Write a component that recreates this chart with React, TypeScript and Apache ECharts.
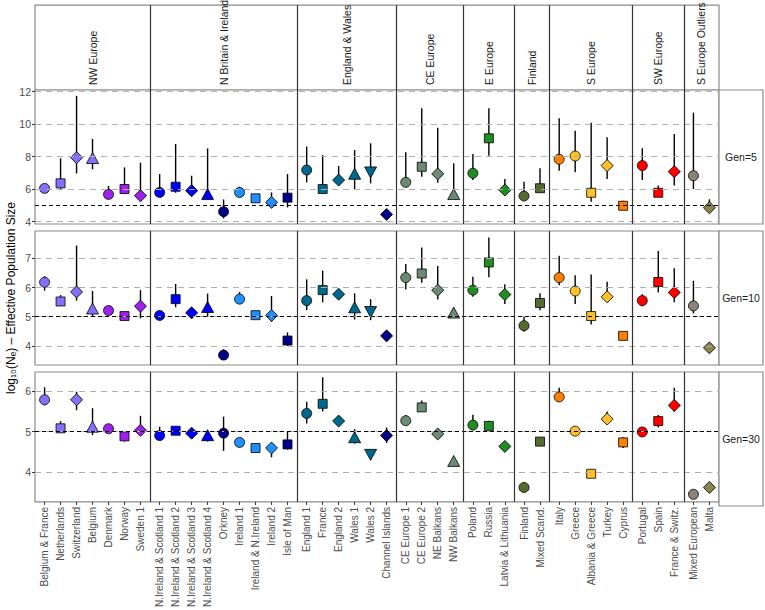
import React, { useEffect, useRef } from "react";
import * as echarts from "echarts";

const groups = ["NW Europe", "N Britain & Ireland", "England & Wales", "CE Europe", "E Europe", "Finland", "S Europe", "SW Europe", "S Europe Outliers"];
const groupSizes = [7, 9, 6, 4, 3, 2, 5, 3, 2];
const categories = [
  "Belgium & France", "Netherlands", "Switzerland", "Belgium", "Denmark", "Norway", "Sweden 1",
  "N.Ireland & Scotland 1", "N.Ireland & Scotland 2", "N.Ireland & Scotland 3", "N.Ireland & Scotland 4", "Orkney", "Ireland 1", "Ireland & N.Ireland", "Ireland 2", "Isle of Man",
  "England 1", "France", "England 2", "Wales 1", "Wales 2", "Channel Islands",
  "CE Europe 1", "CE Europe 2", "NE Balkans", "NW Balkans",
  "Poland", "Russia", "Latvia & Lithuania",
  "Finland", "Mixed Scand.",
  "Italy", "Greece", "Albania & Greece", "Turkey", "Cyprus",
  "Portugal", "Spain", "France & Switz.",
  "Mixed European", "Malta",
];
const shapes = [
  "circle", "square", "diamond", "triangle", "circle", "square", "diamond",
  "circle", "square", "diamond", "triangle", "circle", "circle", "square", "diamond", "square",
  "circle", "square", "diamond", "triangle", "triangleDown", "diamond",
  "circle", "square", "diamond", "triangle",
  "circle", "square", "diamond",
  "circle", "square",
  "circle", "circle", "square", "diamond", "square",
  "circle", "square", "diamond",
  "circle", "diamond",
];
const colors = [
  "#8470ff", "#8470ff", "#8470ff", "#8470ff", "#a020f0", "#a020f0", "#a020f0",
  "#0000ff", "#0000ff", "#0000ff", "#0000ff", "#00008b", "#1e90ff", "#1e90ff", "#1e90ff", "#00008b",
  "#00688b", "#00688b", "#00688b", "#00688b", "#00688b", "#00008b",
  "#6c8b75", "#6c8b75", "#6c8b75", "#6c8b75",
  "#228b22", "#228b22", "#228b22",
  "#556b2f", "#556b2f",
  "#ff8000", "#ffc125", "#ffc125", "#ffc125", "#ff7f00",
  "#ff0000", "#ff0000", "#ff0000",
  "#8b8378", "#8b864e",
];

const gen5 = [6.05, 6.36, 7.94, 7.92, 5.68, 6.01, 5.6, 5.8, 6.15, 5.91, 5.7, 4.62, 5.8, 5.44, 5.19, 5.48, 7.18, 6.01, 6.56, 6.95, 7.03, 4.45, 6.42, 7.38, 6.94, 5.7, 6.98, 9.13, 5.95, 5.58, 6.06, 7.84, 8.04, 5.78, 7.45, 4.98, 7.45, 5.78, 7.08, 6.83, 4.86];
const gen5Low = [6.0, 6.0, 6.97, 7.22, 5.6, 5.74, 5.5, 5.54, 5.78, 5.64, 5.6, 4.2, 5.6, 5.4, 5.1, 4.88, 6.42, 5.95, 6.4, 5.99, 6.36, 4.4, 6.2, 6.77, 6.4, 5.5, 6.57, 8.06, 5.8, 5.4, 6.0, 7.14, 7.04, 5.23, 6.63, 4.9, 6.57, 5.7, 6.22, 6.01, 4.75];
const gen5High = [6.1, 7.9, 11.74, 9.09, 6.2, 7.34, 7.63, 6.93, 8.78, 6.83, 8.51, 5.37, 6.15, 5.68, 5.8, 6.93, 8.62, 8.1, 7.43, 8.41, 8.82, 4.5, 8.27, 10.98, 9.78, 7.59, 8.17, 10.98, 6.63, 6.46, 7.29, 10.36, 9.6, 10.09, 9.19, 5.29, 8.52, 6.22, 9.4, 10.71, 5.38];

const gen10 = [6.18, 5.52, 5.85, 5.28, 5.21, 5.02, 5.36, 5.04, 5.6, 5.13, 5.33, 3.68, 5.6, 5.05, 5.04, 4.18, 5.55, 5.91, 5.77, 5.32, 5.16, 4.34, 6.34, 6.48, 5.91, 5.14, 5.91, 6.86, 5.76, 4.69, 5.47, 6.34, 5.88, 5.02, 5.68, 4.34, 5.55, 6.19, 5.83, 5.37, 3.93];
const gen10Low = [5.89, 5.4, 5.55, 5.0, 5.18, 4.98, 4.94, 5.0, 5.32, 4.95, 5.0, 3.6, 5.45, 5.02, 4.82, 3.99, 5.22, 5.49, 5.74, 4.9, 4.88, 4.3, 5.93, 6.16, 5.59, 5.0, 5.68, 6.35, 5.43, 4.48, 5.22, 6.08, 5.43, 4.73, 5.57, 4.3, 5.36, 5.83, 5.49, 5.11, 3.9];
const gen10High = [6.39, 5.74, 7.44, 5.88, 5.24, 5.1, 5.91, 5.1, 6.12, 5.2, 5.79, 3.88, 5.85, 5.08, 5.71, 4.46, 6.28, 6.58, 5.8, 5.8, 5.6, 4.38, 6.81, 7.37, 6.74, 5.3, 6.37, 7.72, 6.11, 5.02, 5.8, 7.09, 6.42, 6.45, 6.2, 4.38, 5.77, 7.25, 6.66, 6.23, 3.96];

const gen30 = [5.79, 5.08, 5.79, 5.12, 5.07, 4.88, 5.03, 4.9, 5.02, 4.96, 4.91, 4.96, 4.73, 4.59, 4.59, 4.68, 5.45, 5.69, 5.26, 4.86, 4.42, 4.9, 5.27, 5.6, 4.94, 4.27, 5.16, 5.14, 4.63, 3.61, 4.75, 5.86, 5.01, 3.95, 5.31, 4.73, 4.99, 5.26, 5.65, 3.44, 3.61];
const gen30Low = [5.65, 5.02, 5.53, 4.91, 5.05, 4.75, 4.92, 4.85, 4.95, 4.88, 4.75, 4.52, 4.7, 4.57, 4.36, 4.55, 5.2, 5.5, 5.24, 4.7, 4.4, 4.72, 5.2, 5.5, 4.92, 4.25, 5.1, 5.07, 4.6, 3.58, 4.72, 5.8, 4.95, 3.9, 5.2, 4.59, 4.95, 5.1, 5.49, 3.42, 3.58];
const gen30High = [6.1, 5.26, 5.99, 5.58, 5.09, 5.0, 5.39, 5.12, 5.1, 5.08, 5.0, 5.37, 4.76, 4.61, 4.72, 5.0, 5.74, 6.35, 5.28, 5.06, 4.5, 5.1, 5.41, 5.77, 4.96, 4.3, 5.42, 5.27, 4.66, 3.64, 4.78, 6.09, 5.07, 3.98, 5.5, 4.86, 5.05, 5.41, 6.09, 3.46, 3.64];

const rowLabels = ["Gen=5", "Gen=10", "Gen=30"];
const rowTicks = [[4, 6, 8, 10, 12], [4, 5, 6, 7], [4, 5, 6]];
const rowLimits = [[3.86, 12.1], [3.34, 7.94], [3.25, 6.48]];
const referenceLine = 5;

const FONT = "'Liberation Sans', Arial, sans-serif";
const LEFT = 35;
const WIDTH = 684;
const ROW_TOPS = [90, 231, 372];
const ROW_H = 134;
const STRIP_TOP = 2;

export default function App() {
  const ref = useRef<HTMLDivElement>(null);
  useEffect(() => {
    document.body.style.margin = "0";
    if (!ref.current) return;
    const chart = echarts.init(ref.current, undefined, { renderer: "svg" });

    // layout of categories in units (discrete scale with 0.6 expansion per panel)
    const xPos: number[] = [];
    const boundaries: number[] = [];
    const centers: number[] = [];
    let start = 0;
    groupSizes.forEach((n) => {
      for (let j = 0; j < n; j++) xPos.push(start + 0.6 + j);
      centers.push(start + (n + 0.2) / 2);
      start += n + 0.2;
      boundaries.push(start);
    });
    const XMAX = start;
    const innerBounds = boundaries.slice(0, -1);
    const nameAt = (v: number) => {
      let best = 0;
      xPos.forEach((p, i) => { if (Math.abs(p - v) < Math.abs(xPos[best] - v)) best = i; });
      return categories[best];
    };
    const groupAt = (v: number) => {
      let best = 0;
      centers.forEach((p, i) => { if (Math.abs(p - v) < Math.abs(centers[best] - v)) best = i; });
      return groups[best];
    };

    const values = [gen5, gen10, gen30];
    const lows = [gen5Low, gen10Low, gen30Low];
    const highs = [gen5High, gen10High, gen30High];

    const symbolFor = (s: string) => {
      switch (s) {
        case "circle": return { symbol: "circle", symbolSize: 10, symbolRotate: 0 };
        case "square": return { symbol: "rect", symbolSize: 9, symbolRotate: 0 };
        case "diamond": return { symbol: "rect", symbolSize: 8.5, symbolRotate: 45 };
        case "triangle": return { symbol: "triangle", symbolSize: [12, 11], symbolRotate: 0 };
        case "triangleDown": return { symbol: "triangle", symbolSize: [12, 11], symbolRotate: 180 };
      }
      return { symbol: "circle", symbolSize: 10, symbolRotate: 0 };
    };

    const grids: any[] = [
      { left: LEFT, top: STRIP_TOP, width: WIDTH, height: ROW_TOPS[0] - STRIP_TOP, show: true, borderColor: "#8a8a8a", borderWidth: 1.2, backgroundColor: "#fff" },
      ...ROW_TOPS.map((t) => ({ left: LEFT, top: t, width: WIDTH, height: ROW_H, show: true, borderColor: "#8a8a8a", borderWidth: 1.2, backgroundColor: "#fff" })),
    ];

    const xAxes: any[] = [
      {
        type: "value", gridIndex: 0, min: 0, max: XMAX,
        axisLine: { show: false }, axisTick: { show: false }, splitLine: { show: false },
        axisLabel: {
          show: true, inside: true, rotate: 90, margin: 5, customValues: centers,
          formatter: (v: number) => groupAt(v), color: "#1a1a1a", fontSize: 10.5, fontFamily: FONT,
        },
      },
      ...[0, 1, 2].map((r) => ({
        type: "value", gridIndex: r + 1, min: 0, max: XMAX,
        axisLine: { show: false }, splitLine: { show: false },
        axisTick: r === 2 ? { show: true, customValues: xPos, length: 3, lineStyle: { color: "#333", width: 1 } } : { show: false },
        axisLabel: r === 2
          ? { show: true, rotate: 90, margin: 5, customValues: xPos, formatter: (v: number) => nameAt(v), color: "#4d4d4d", fontSize: 10, fontFamily: FONT }
          : { show: false },
      })),
    ];

    const yAxes: any[] = [
      { type: "value", gridIndex: 0, min: 0, max: 1, show: false },
      ...[0, 1, 2].map((r) => ({
        type: "value", gridIndex: r + 1, min: rowLimits[r][0], max: rowLimits[r][1],
        axisLine: { show: false }, splitLine: { show: false },
        axisTick: { show: true, customValues: rowTicks[r], length: 3, lineStyle: { color: "#333", width: 1 } },
        axisLabel: { show: true, customValues: rowTicks[r], color: "#4d4d4d", fontSize: 10.5, margin: 4, fontFamily: FONT },
      })),
    ];

    const sepLine = (b: number) => ({ xAxis: b, lineStyle: { color: "#333", width: 1.2, type: "solid" } });

    const series: any[] = [
      {
        type: "scatter", xAxisIndex: 0, yAxisIndex: 0, data: [], silent: true,
        markLine: { silent: true, symbol: "none", label: { show: false }, animation: false, data: innerBounds.map(sepLine) },
      },
    ];

    [0, 1, 2].forEach((r) => {
      series.push({
        type: "scatter", xAxisIndex: r + 1, yAxisIndex: r + 1, data: [], silent: true, z: 1,
        markLine: {
          silent: true, symbol: "none", label: { show: false }, animation: false,
          data: [
            ...rowTicks[r].map((t) => ({ yAxis: t, lineStyle: { color: "#b0b0b0", width: 1.2, type: [6, 5] } })),
            { yAxis: referenceLine, lineStyle: { color: "#000", width: 1.2, type: [4, 3] } },
            ...innerBounds.map(sepLine),
          ],
        },
      });
      series.push({
        type: "custom", xAxisIndex: r + 1, yAxisIndex: r + 1, z: 2, silent: true,
        data: categories.map((_, i) => [xPos[i], lows[r][i], highs[r][i]]),
        encode: { x: 0, y: [1, 2] },
        renderItem: (params: any, api: any) => {
          const x = api.value(0);
          const p1 = api.coord([x, api.value(1)]);
          const p2 = api.coord([x, api.value(2)]);
          return { type: "line", shape: { x1: p1[0], y1: p1[1], x2: p2[0], y2: p2[1] }, style: { stroke: "#000", lineWidth: 1.4 } };
        },
      });
      series.push({
        type: "scatter", xAxisIndex: r + 1, yAxisIndex: r + 1, z: 3, silent: true,
        data: categories.map((c, i) => {
          const s = symbolFor(shapes[i]);
          return {
            name: c, value: [xPos[i], values[r][i]], ...s,
            itemStyle: { color: colors[i], borderColor: "#000", borderWidth: 0.8, opacity: 1 },
          };
        }),
      });
    });

    const graphic: any[] = [];
    ROW_TOPS.forEach((t, r) => {
      graphic.push({
        type: "rect", shape: { x: LEFT + WIDTH, y: t, width: 44, height: ROW_H },
        style: { fill: "#fff", stroke: "#8a8a8a", lineWidth: 1.2 },
      });
      graphic.push({
        type: "text", x: LEFT + WIDTH + 22, y: t + ROW_H / 2,
        style: { text: rowLabels[r], fill: "#1a1a1a", fontSize: 10.5, fontFamily: FONT, align: "center", verticalAlign: "middle" },
      });
    });
    graphic.push({
      type: "text", x: 11, y: (ROW_TOPS[0] + ROW_TOPS[2] + ROW_H) / 2, rotation: Math.PI / 2,
      style: { text: "log\u2081\u2080(N\u2091) \u2013 Effective Population Size", fill: "#000", fontSize: 12, fontFamily: FONT, align: "center", verticalAlign: "middle" },
    });

    chart.setOption({
      animation: false,
      textStyle: { fontFamily: FONT },
      grid: grids,
      xAxis: xAxes,
      yAxis: yAxes,
      series,
      graphic,
    });
    return () => chart.dispose();
  }, []);
  return <div ref={ref} style={{ width: 765, height: 610 }} />;
}
